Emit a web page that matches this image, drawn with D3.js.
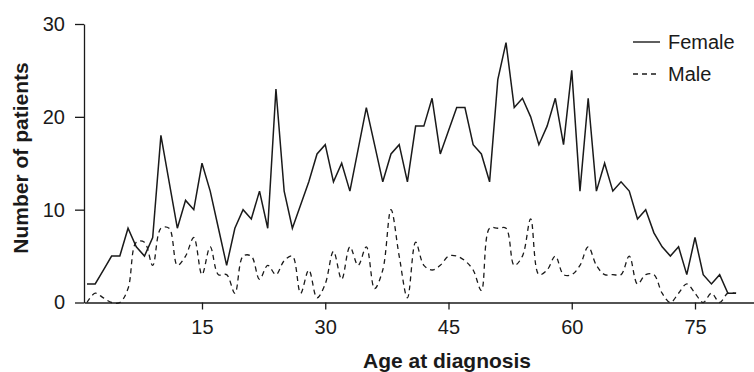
<!DOCTYPE html>
<html>
<head>
<meta charset="utf-8">
<script src="https://cdn.jsdelivr.net/npm/d3@7"></script>
<style>
  body { margin: 0; background: #fff; }
  text { font-family: "Liberation Sans", Arial, sans-serif; fill: #1a1a1a; }
</style>
</head>
<body>
<div id="chart"></div>
<script>
// ages 1..80
const ages = d3.range(1, 81);
const female = [2, 2, 3.5, 5, 5, 8, 6, 5, 7, 18, 13, 8, 11, 10, 15, 12, 8, 4, 8, 10,
  9, 12, 8, 23, 12, 8, 10.5, 13, 16, 17, 13, 15, 12, 16.5, 21, 17, 13, 16, 17, 13,
  19, 19, 22, 16, 18.5, 21, 21, 17, 16, 13, 24, 28, 21, 22, 20, 17, 19, 22, 17, 25,
  12, 22, 12, 15, 12, 13, 12, 9, 10, 7.5, 6, 5, 6, 3, 7, 3, 2, 3, 1, 1];
const male = [0, 1, 0.5, 0, 0, 1.5, 6.5, 6.5, 4, 8, 8, 4, 5, 7, 3, 6, 3, 3, 1, 5,
  5, 2.5, 4, 3, 4.5, 5, 1, 3.5, 0.5, 2, 5.5, 2.5, 6, 4, 6, 1.5, 3.5, 10, 5, 0.5,
  6.5, 4, 3.5, 4, 5, 5, 4.5, 3.5, 1.3, 8, 8, 8, 4, 5, 9, 3, 3.5, 5, 3, 3,
  4, 6, 4, 3, 3, 3, 5, 2, 3, 3, 1, 0, 1, 2, 1, 0, 1, 0, 1, 1];
const xTicks = [15, 30, 45, 60, 75];
const yTicks = [0, 10, 20, 30];

const width = 754, height = 372;

const svg = d3.select('#chart')
  .append('svg')
  .attr('width', width)
  .attr('height', height);

const x = d3.scaleLinear().domain([0.64, 82.18]).range([84, 754]);
const y = d3.scaleLinear().domain([0, 30]).range([302.5, 24]);

// axes
const xAxis = svg.append('g')
  .attr('transform', `translate(0,${y(0)})`)
  .call(d3.axisBottom(x).tickValues(xTicks).tickSize(7).tickSizeOuter(0).tickPadding(10));
const yAxis = svg.append('g')
  .attr('transform', `translate(${x.range()[0]},0)`)
  .call(d3.axisLeft(y).tickValues(yTicks).tickSize(9).tickSizeOuter(0).tickPadding(10));

[xAxis, yAxis].forEach(g => {
  g.selectAll('path, line').attr('stroke', '#1a1a1a').attr('stroke-width', 1.3);
  g.selectAll('text').attr('font-size', 20).attr('fill', '#1a1a1a')
    .attr('font-family', '"Liberation Sans", Arial, sans-serif');
});

// axis titles
svg.append('text')
  .attr('x', 447)
  .attr('y', 368)
  .attr('text-anchor', 'middle')
  .attr('font-size', 21)
  .attr('font-weight', 'bold')
  .text('Age at diagnosis');

svg.append('text')
  .attr('transform', 'translate(28,158) rotate(-90)')
  .attr('text-anchor', 'middle')
  .attr('font-size', 21)
  .attr('font-weight', 'bold')
  .text('Number of patients');

// lines
const femaleLine = d3.line()
  .x((d, i) => x(ages[i]))
  .y(d => y(d));

const maleLine = d3.line()
  .x((d, i) => x(ages[i]))
  .y(d => y(d))
  .curve(d3.curveCatmullRom.alpha(0.5));

svg.append('path')
  .datum(male)
  .attr('d', maleLine)
  .attr('fill', 'none')
  .attr('stroke', '#1a1a1a')
  .attr('stroke-width', 1.3)
  .attr('stroke-dasharray', '5,4');

svg.append('path')
  .datum(female)
  .attr('d', femaleLine)
  .attr('fill', 'none')
  .attr('stroke', '#1a1a1a')
  .attr('stroke-width', 1.5)
  .attr('stroke-linejoin', 'miter');

// legend
const legend = svg.append('g').attr('transform', 'translate(633,0)');
const items = [
  { label: 'Female', dash: null, y: 42 },
  { label: 'Male', dash: '5,4', y: 74 }
];
items.forEach(it => {
  legend.append('line')
    .attr('x1', 0).attr('x2', 27)
    .attr('y1', it.y).attr('y2', it.y)
    .attr('stroke', '#1a1a1a')
    .attr('stroke-width', 1.4)
    .attr('stroke-dasharray', it.dash);
  legend.append('text')
    .attr('x', 35)
    .attr('y', it.y + 7)
    .attr('font-size', 20)
    .text(it.label);
});
</script>
</body>
</html>
